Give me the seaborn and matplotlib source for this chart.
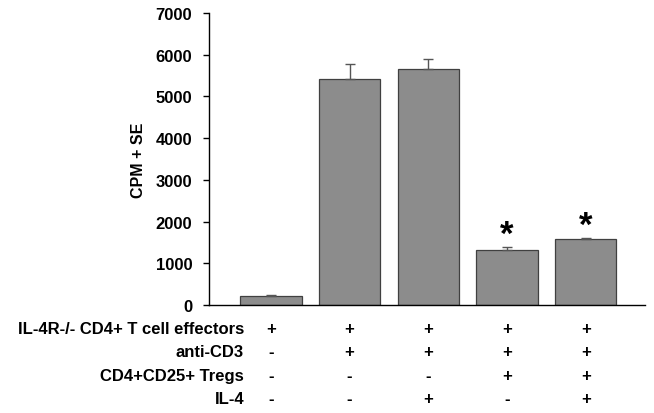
import numpy as np
import pandas as pd
import seaborn as sns
import matplotlib.pyplot as plt
from matplotlib.transforms import blended_transform_factory

# data
groups = ["G1", "G2", "G3", "G4", "G5"]
cpm = [215, 5420, 5660, 1320, 1585]
se = [12, 360, 240, 70, 25]
significant = [False, False, False, True, True]

row_labels = ["IL-4R-/- CD4+ T cell effectors", "anti-CD3", "CD4+CD25+ Tregs", "IL-4"]
effectors = ["+", "+", "+", "+", "+"]
anti_cd3 = ["-", "+", "+", "+", "+"]
tregs = ["-", "-", "-", "+", "+"]
il4 = ["-", "-", "+", "-", "+"]

sns.set_style("white")
plt.rcParams['font.family'] = ['Liberation Sans', 'DejaVu Sans']
plt.rcParams['font.weight'] = 'bold'
for key in ["text.color", "axes.labelcolor", "xtick.color", "ytick.color"]:
    plt.rcParams[key] = "black"

df = pd.DataFrame({"group": groups, "cpm": cpm, "se": se})

fig = plt.figure(figsize=(6.54, 4.14), dpi=100)
ax = fig.add_axes([0.3196, 0.261, 0.6664, 0.705])

sns.barplot(data=df, x="group", y="cpm", color="#8c8c8c", width=0.78,
            edgecolor="#404040", linewidth=0.9, saturation=1, errorbar=None, ax=ax)
ax.errorbar(np.arange(len(groups)), df["cpm"], yerr=[np.zeros(len(se)), df["se"]],
            fmt="none", ecolor="#555555", elinewidth=1, capsize=3.5, capthick=1)

# significance marks
for i, (v, e, s) in enumerate(zip(cpm, se, significant)):
    if s:
        ax.annotate("*", (i, v + e), xytext=(0, 2), textcoords="offset points",
                    ha="center", va="baseline", fontsize=25, fontweight="bold")

ax.set_ylim(0, 7000)
ax.set_xlim(-0.785, 4.75)
ax.set_yticks(range(0, 7001, 1000))
ax.set_xticks([])
ax.set_xlabel("")
ax.set_ylabel("CPM + SE", fontsize=11.5, fontweight="bold", labelpad=7)
ax.tick_params(axis="y", direction="out", length=4, width=1, left=True, labelsize=12, pad=8)
for lab in ax.get_yticklabels():
    lab.set_fontweight("bold")
sns.despine(ax=ax)
for sp in ["left", "bottom"]:
    ax.spines[sp].set_color("black")
    ax.spines[sp].set_linewidth(1)

# condition table under the axis
trans = blended_transform_factory(ax.transData, ax.transAxes)
rows = [effectors, anti_cd3, tregs, il4]
row_y = [-0.079, -0.161, -0.243, -0.322]
for label, signs, y in zip(row_labels, rows, row_y):
    ax.text(-0.34, y, label, transform=trans, ha="right", va="center",
            fontsize=12, fontweight="bold")
    for i, sgn in enumerate(signs):
        ax.text(i, y, sgn, transform=trans, ha="center", va="center",
                fontsize=12, fontweight="bold")

fig.savefig("out.png", dpi=100)
